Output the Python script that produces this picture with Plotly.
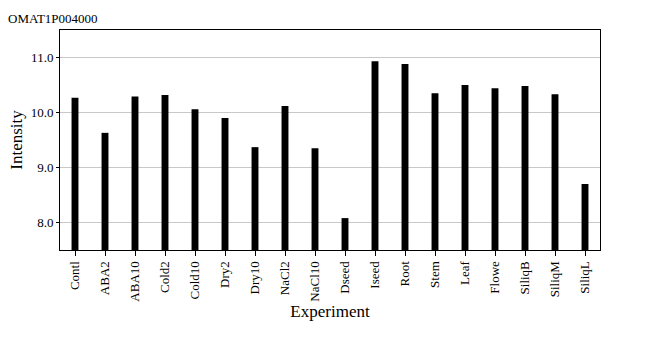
import plotly.graph_objects as go

categories = ["Contl", "ABA2", "ABA10", "Cold2", "Cold10", "Dry2", "Dry10", "NaCl2",
              "NaCl10", "Dseed", "Iseed", "Root", "Stem", "Leaf", "Flowe", "SiliqB",
              "SiliqM", "SiliqL"]
intensity = [10.27, 9.63, 10.29, 10.32, 10.06, 9.90, 9.37, 10.12,
             9.35, 8.08, 10.93, 10.88, 10.35, 10.50, 10.44, 10.48,
             10.33, 8.70]
y_ticks = [8.0, 9.0, 10.0, 11.0]
y_tick_labels = ["8.0", "9.0", "10.0", "11.0"]
y_floor = 7.5

font_family = "Liberation Serif"

fig = go.Figure(go.Bar(
    x=categories, y=[v - y_floor for v in intensity], base=y_floor, width=0.23,
    marker=dict(color="black", line=dict(width=0)),
))

fig.update_layout(
    width=660, height=350,
    margin=dict(l=60, r=60, t=30, b=100),
    paper_bgcolor="white", plot_bgcolor="white",
    font=dict(family=font_family, color="black", size=13),
    showlegend=False,
    annotations=[dict(text="OMAT1P004000", x=0, y=1, xref="paper", yref="paper",
                      xanchor="left", yanchor="bottom", xshift=-54, yshift=2,
                      showarrow=False, font=dict(family=font_family, size=13, color="black"))],
)
fig.update_xaxes(
    title=dict(text="Experiment", font=dict(family=font_family, size=17), standoff=0),
    tickangle=-90, ticks="outside", ticklen=5, tickcolor="black",
    tickfont=dict(family=font_family, size=13),
    showline=True, linecolor="black", linewidth=1, mirror=True,
    range=[-0.5, len(categories) - 0.5],
)
fig.update_yaxes(
    title=dict(text="Intensity", font=dict(family=font_family, size=17), standoff=3),
    range=[7.5, 11.5], tickvals=y_ticks, ticktext=y_tick_labels,
    ticks="outside", ticklen=3, tickcolor="black",
    tickfont=dict(family=font_family, size=13),
    showgrid=True, gridcolor="#c8c8c8", gridwidth=1,
    showline=True, linecolor="black", linewidth=1, mirror=True,
    zeroline=False,
)

fig.write_html("out.html")
